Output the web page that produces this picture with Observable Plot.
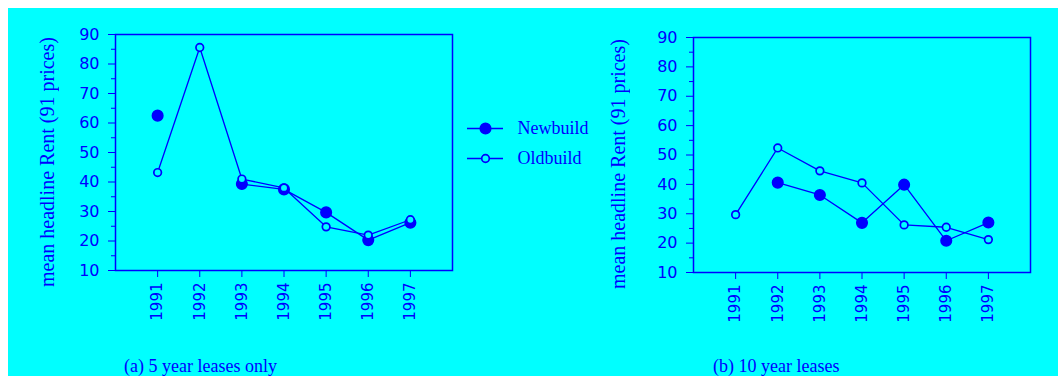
<!DOCTYPE html>
<html>
<head>
<meta charset="utf-8">
<script src="https://cdn.jsdelivr.net/npm/d3@7"></script>
<script src="https://cdn.jsdelivr.net/npm/@observablehq/plot@0.6"></script>
<style>
  html, body { margin: 0; padding: 0; background: #ffffff; width: 1058px; height: 376px; overflow: hidden; }
  #bg { position: absolute; left: 8px; top: 8px; right: 0; bottom: 0; background: #00ffff; }
  .abs { position: absolute; }
  .ylab { position: absolute; writing-mode: vertical-rl; transform: rotate(180deg);
          font-family: "Liberation Serif", serif; font-size: 20px; color: #0000ff; line-height: 1; white-space: nowrap; }
  .cap { position: absolute; font-family: "Liberation Serif", serif; font-size: 18px; color: #0000ff; line-height: 1; white-space: nowrap; }
</style>
</head>
<body>
<div id="bg"></div>
<div id="panelA" class="abs" style="left:0px;top:0px"></div>
<div id="panelB" class="abs" style="left:578px;top:0px"></div>
<div id="legend" class="abs" style="left:460px;top:113px"></div>
<div class="ylab" style="left:37px;top:40px;height:247px;text-align:center">mean headline Rent (91 prices)</div>
<div class="ylab" style="left:608px;top:42px;height:247px;text-align:center">mean headline Rent (91 prices)</div>
<div class="cap" style="left:124px;top:357px">(a) 5 year leases only</div>
<div class="cap" style="left:713px;top:357px">(b) 10 year leases</div>
<script>
const years = [1991, 1992, 1993, 1994, 1995, 1996, 1997];
const yMajor = [10, 20, 30, 40, 50, 60, 70, 80, 90];
const yMinor = [15, 25, 35, 45, 55, 65, 75, 85];
// (a) 5 year leases only
const newbuildA = [62.5, null, 39.3, 37.5, 29.7, 20.3, 26.2];
const oldbuildA = [43.2, 85.6, 41.0, 38.0, 24.8, 22.0, 27.2];
// (b) 10 year leases
const newbuildB = [null, 40.6, 36.4, 26.9, 39.9, 20.8, 27.0];
const oldbuildB = [29.7, 52.4, 44.6, 40.5, 26.2, 25.4, 21.2];
const seriesNames = ["Newbuild", "Oldbuild"];

const BLUE = "#0000ff";
const CYAN = "#00ffff";

function toRows(vals) {
  return years.map((yr, i) => ({year: yr, v: vals[i] == null ? NaN : vals[i]}));
}

function panel(newVals, oldVals, marginTop, marginBottom) {
  const nb = toRows(newVals), ob = toRows(oldVals);
  return Plot.plot({
    width: 470,
    height: 340,
    marginLeft: 115,
    marginRight: 18,
    marginTop: marginTop,
    marginBottom: marginBottom,
    style: {background: "transparent", color: BLUE, fontFamily: "DejaVu Sans, sans-serif", fontSize: "16px"},
    x: {domain: [1990, 1998], axis: null},
    y: {domain: [10, 90], axis: null},
    marks: [
      Plot.axisY({ticks: yMajor, tickSize: 7, tickPadding: 9, label: null, fontSize: 16, stroke: BLUE, fill: BLUE}),
      Plot.axisY({ticks: yMinor, tickSize: 4, tickFormat: () => "", label: null, stroke: BLUE}),
      Plot.axisX({ticks: years, tickFormat: "d", tickRotate: -90, tickSize: 7, tickPadding: 5, label: null, fontSize: 15, stroke: BLUE, fill: BLUE}),
      Plot.frame({stroke: BLUE, strokeWidth: 1.5}),
      Plot.line(nb, {x: "year", y: "v", stroke: BLUE, strokeWidth: 1.3}),
      Plot.line(ob, {x: "year", y: "v", stroke: BLUE, strokeWidth: 1.3}),
      Plot.dot(nb, {x: "year", y: "v", r: 5.3, fill: BLUE, stroke: BLUE}),
      Plot.dot(ob, {x: "year", y: "v", r: 3.8, fill: CYAN, stroke: BLUE, strokeWidth: 1.7})
    ]
  });
}

document.getElementById("panelA").appendChild(panel(newbuildA, oldbuildA, 34, 70));
document.getElementById("panelB").appendChild(panel(newbuildB, oldbuildB, 37, 68));

const legendRows = seriesNames.map(s => ({name: s}));
const legend = Plot.plot({
  width: 143,
  height: 60,
  marginLeft: 7,
  marginRight: 100,
  marginTop: 15,
  marginBottom: 15,
  style: {background: "transparent", color: BLUE},
  x: {domain: [0, 1], axis: null},
  y: {domain: seriesNames, type: "point", padding: 0, axis: null},
  marks: [
    Plot.ruleY(legendRows, {y: "name", x1: 0, x2: 1, stroke: BLUE, strokeWidth: 1.3}),
    Plot.dot(legendRows.filter(d => d.name === "Newbuild"), {x: 0.5, y: "name", r: 5.3, fill: BLUE, stroke: BLUE}),
    Plot.dot(legendRows.filter(d => d.name === "Oldbuild"), {x: 0.5, y: "name", r: 3.8, fill: CYAN, stroke: BLUE, strokeWidth: 1.7}),
    Plot.text(legendRows, {x: 1, y: "name", text: "name", dx: 14, textAnchor: "start", fill: BLUE, fontSize: 18, fontFamily: "Liberation Serif, serif"})
  ]
});
document.getElementById("legend").appendChild(legend);
</script>
</body>
</html>
